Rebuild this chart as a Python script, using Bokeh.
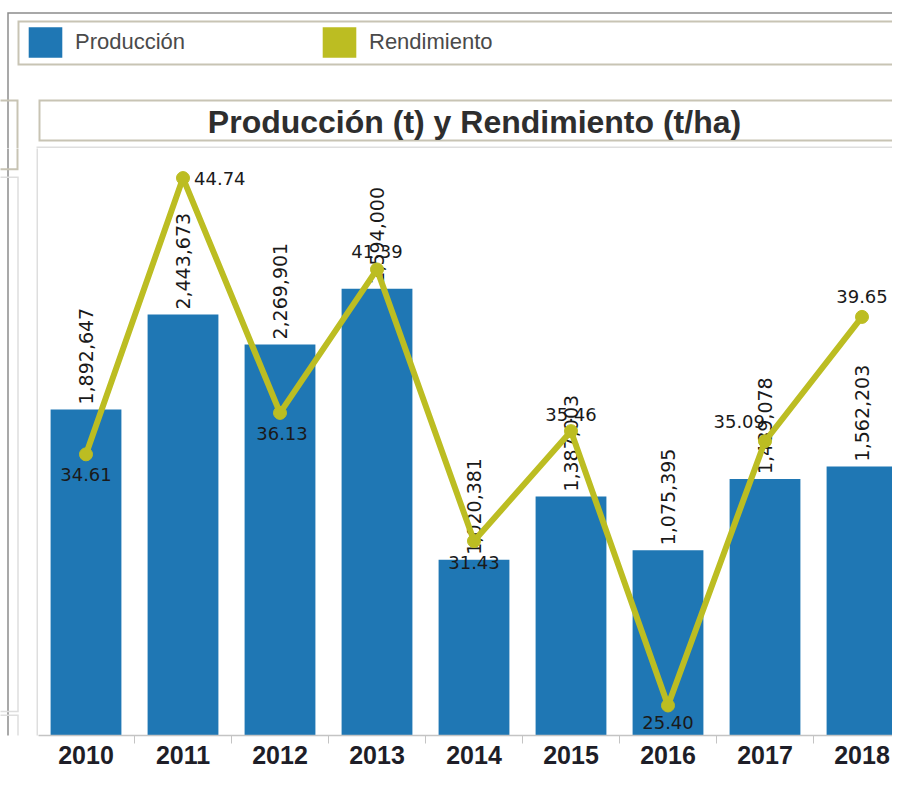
import math
from bokeh.plotting import figure
from bokeh.layouts import column, row
from bokeh.models import (ColumnDataSource, Range1d, FixedTicker, Legend, LegendItem, Label)
from bokeh.core.properties import value
from bokeh.embed import file_html
from bokeh.resources import INLINE

# ---------------- data ----------------
years = ["2010", "2011", "2012", "2013", "2014", "2015", "2016", "2017", "2018"]
produccion = [1892647, 2443673, 2269901, 2594000, 1020381, 1387003, 1075395, 1489078, 1562203]
rendimiento = [34.61, 44.74, 36.13, 41.39, 31.43, 35.46, 25.40, 35.09, 39.65]

# ---------------- styles ----------------
BLUE = "#1f77b4"
OLIVE = "#bcbd22"
KHAKI = "#c8c4b4"
LIGHT = "#dedede"
FRAME = "#8c8c8c"
# label placement (screen offsets) for the Rendimiento labels
lab_dx = [0, 11, 2, 0, 0, 0, 0, 0, 0]
lab_dy = [20, 0, 21, -18, 21, -17, 17, -20, -20]
lab_align = ["center", "left", "center", "center", "center", "center", "center", "right", "center"]

W, H = 892, 769
TOP_H = 148
LEFT_W = 38

# decoration boxes (page pixels: left, right, top, bottom, colour, width)
boxes = [
    (7.5, 2000, 12.5, 2000, FRAME, 1.5),     # outer frame
    (18, 2000, 21, 64, KHAKI, 2),            # legend box
    (-10, 17, 100, 170, KHAKI, 2),           # left panel
    (-10, 17.5, 178.5, 743.5, LIGHT, 1.5),
    (-10, 17.5, 747.5, 2000, LIGHT, 1.5),
    (39, 2000, 100, 140, KHAKI, 2),          # title box
    (37, 2000, 147, 2000, LIGHT, 2),         # plot box
]


def deco_fig(w, h, x0, y0):
    f = figure(width=w, height=h, output_backend="svg", toolbar_location=None,
               x_range=Range1d(x0, x0 + w), y_range=Range1d(y0 + h, y0),
               x_axis_location=None, y_axis_location=None,
               min_border_left=0, min_border_right=0, min_border_top=0, min_border_bottom=0)
    f.xgrid.visible = False
    f.ygrid.visible = False
    f.outline_line_color = None
    f.background_fill_color = "white"
    f.border_fill_color = "white"
    for (l, r, t, b, c, lw) in boxes:
        f.quad(left=[l], right=[r], top=[t], bottom=[b], fill_alpha=0, fill_color=None,
               line_color=c, line_width=lw, line_join="miter")
    return f


# ---------------- top strip: frame, legend, title ----------------
pa = deco_fig(W, TOP_H, 0, 0)
pa.add_layout(Label(x=474, y=121, text="Producción (t) y Rendimiento (t/ha)",
                    text_align="center", text_baseline="middle",
                    text_font="Liberation Sans", text_font_style="bold",
                    text_font_size="32px", text_color="#2e2e2e"))
# legend swatch renderers (placed outside the visible range)
sw_prod = pa.vbar(x=[-1000], top=[0], bottom=[0], width=1, fill_color=BLUE, line_color=None)
sw_rend = pa.vbar(x=[-1000], top=[0], bottom=[0], width=1, fill_color=OLIVE, line_color=None)
legend = Legend(items=[LegendItem(label="Producción", renderers=[sw_prod]),
                       LegendItem(label="Rendimiento", renderers=[sw_rend])],
                orientation="horizontal", location=(24, TOP_H - 61),
                glyph_width=42, glyph_height=38, label_standoff=9, label_width=200,
                spacing=43, padding=0, margin=0, border_line_color=None,
                background_fill_alpha=0, label_text_font="Liberation Sans",
                label_text_font_size="22px", label_text_color="#4a4a4a",
                label_height=38)
pa.add_layout(legend, "center")

# ---------------- left strip ----------------
pl = deco_fig(LEFT_W, H - TOP_H, 0, TOP_H)

# ---------------- chart ----------------
idx = list(range(len(years)))
src = ColumnDataSource(dict(
    x=idx,
    prod=produccion,
    rend=rendimiento,
    prod_lbl=[f"{v:,}" for v in produccion],
))

p = figure(width=W - LEFT_W, height=H - TOP_H, output_backend="svg", toolbar_location=None,
           x_range=Range1d(-0.4897, 8.3144), y_range=Range1d(0, 3408000),
           y_axis_location=None, min_border_left=0, min_border_right=0,
           min_border_top=0, min_border_bottom=34)
p.extra_y_ranges = {"rend": Range1d(24.299, 45.825)}
p.xgrid.visible = False
p.ygrid.visible = False
p.outline_line_color = None
p.background_fill_color = "white"
p.border_fill_color = "white"

ax = p.xaxis[0]
ax.ticker = FixedTicker(ticks=idx, minor_ticks=[i + 0.5 for i in range(-1, len(years))])
ax.major_label_overrides = {i: y for i, y in enumerate(years)}
ax.major_tick_line_color = None
ax.major_tick_out = 0
ax.major_tick_in = 0
ax.minor_tick_line_color = "#c4c4c4"
ax.minor_tick_out = 8
ax.minor_tick_in = 0
ax.axis_line_color = "#c4c4c4"
ax.axis_line_width = 1.5
ax.major_label_standoff = 2
ax.major_label_text_font = "Liberation Sans"
ax.major_label_text_font_style = "bold"
ax.major_label_text_font_size = "25px"
ax.major_label_text_color = "#1e1e28"

p.vbar(x="x", top="prod", width=0.73, source=src, fill_color=BLUE, line_color=None)
p.text(x="x", y="prod", text="prod_lbl", source=src, angle=math.pi / 2,
       text_align="left", text_baseline="middle", y_offset=-5,
       text_font=value("DejaVu Sans"), text_font_size="19px", text_color="#1a1a1a")

p.line(x="x", y="rend", source=src, y_range_name="rend", line_color=OLIVE, line_width=6)
p.scatter(x="x", y="rend", source=src, y_range_name="rend", size=13,
          fill_color=OLIVE, line_color=OLIVE)

for al in ("center", "left", "right"):
    sel = [i for i in idx if lab_align[i] == al]
    s = ColumnDataSource(dict(
        x=sel,
        y=[rendimiento[i] for i in sel],
        t=[f"{rendimiento[i]:.2f}" for i in sel],
        dx=[lab_dx[i] for i in sel],
        dy=[lab_dy[i] for i in sel],
    ))
    p.text(x="x", y="y", text="t", source=s, y_range_name="rend",
           x_offset="dx", y_offset="dy", text_align=al, text_baseline="middle",
           text_font=value("DejaVu Sans"), text_font_size="18px", text_color="#1a1a1a")

layout = column(pa, row(pl, p, spacing=0), spacing=0)
open("out.html", "w").write(file_html(layout, INLINE))
